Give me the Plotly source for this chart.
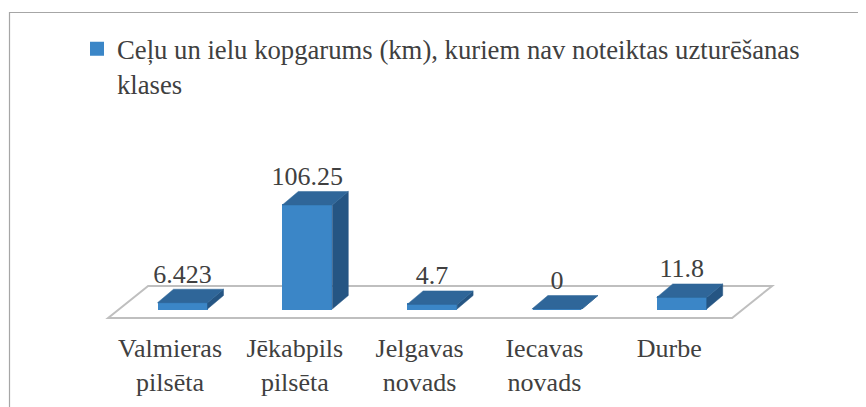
import plotly.graph_objects as go

# ---------------- data ----------------
categories = ["Valmieras<br>pilsēta", "Jēkabpils<br>pilsēta", "Jelgavas<br>novads",
              "Iecavas<br>novads", "Durbe"]
values = [6.423, 106.25, 4.7, 0, 11.8]
value_labels = ["6.423", "106.25", "4.7", "0", "11.8"]
series_name = "Ceļu un ielu kopgarums (km), kuriem nav noteiktas uzturēšanas<br>klases"

# ---------------- geometry / style ----------------
W, H = 866, 407
OFF = 8  # page body margin
PX_PER_CAT = 124.8
PX_PER_VAL = 0.979
X0_PX = 182.5 - OFF
Y0_PX = 309.0 - OFF

x_range = [-X0_PX / PX_PER_CAT, (W - X0_PX) / PX_PER_CAT]
y_range = [-(H - Y0_PX) / PX_PER_VAL, Y0_PX / PX_PER_VAL]

OUTLINE = 2
bar_w = 50 / PX_PER_CAT                # visible front-face width
bar_w_core = (50 - OUTLINE) / PX_PER_CAT
dx = 16 / PX_PER_CAT
dy = 13.5 / PX_PER_VAL

FRONT = "#3B86C7"
TOP = "#2F6699"
SIDE = "#255583"
TEXT = "#404040"
FONT = "Liberation Serif"

n = len(values)
xs = list(range(n))

top_x, top_y, side_x, side_y = [], [], [], []
for i, v in zip(xs, values):
    x0, x1 = i - bar_w / 2, i + bar_w / 2
    top_x += [x0, x1, x1 + dx, x0 + dx, x0, None]
    top_y += [v, v, v + dy, v + dy, v, None]
    side_x += [x1, x1, x1 + dx, x1 + dx, x1, None]
    side_y += [0, v, v + dy, dy, 0, None]

fig = go.Figure()

fig.add_trace(go.Bar(
    x=xs, y=values, width=bar_w_core,
    marker=dict(color=FRONT, line=dict(width=OUTLINE, color=FRONT)),
    name=series_name, showlegend=True, hoverinfo="y"))

fig.add_trace(go.Scatter(
    x=side_x, y=side_y, fill="toself", fillcolor=SIDE, mode="lines",
    line=dict(color=SIDE, width=0.5), showlegend=False, hoverinfo="skip"))
fig.add_trace(go.Scatter(
    x=top_x, y=top_y, fill="toself", fillcolor=TOP, mode="lines",
    line=dict(color=TOP, width=0.5), showlegend=False, hoverinfo="skip"))

fig.add_trace(go.Scatter(
    x=xs, y=[v + dy for v in values], mode="text", text=value_labels,
    textposition="top center",
    textfont=dict(family=FONT, size=26, color=TEXT),
    showlegend=False, hoverinfo="skip"))

fig.add_trace(go.Scatter(
    x=xs, y=[0] * n, xaxis="x2", mode="markers", marker=dict(opacity=0),
    showlegend=False, hoverinfo="skip"))

# floor of the 3D plot area
f_front = -9.2
f_back = 23.5
fl_x0 = -0.5 - 0.096
fl_x1 = n - 0.5 - 0.096
shift = 40 / PX_PER_CAT
fig.add_shape(type="path", xref="x", yref="y", layer="below",
              path=(f"M {fl_x0},{f_front} L {fl_x1},{f_front} "
                    f"L {fl_x1 + shift},{f_back} L {fl_x0 + shift},{f_back} Z"),
              line=dict(color="#BFBFBF", width=2), fillcolor="rgba(0,0,0,0)")

# outer chart frame
fig.add_shape(type="rect", xref="paper", yref="paper",
              x0=(9.5 - OFF) / W, x1=1.05, y0=-0.05, y1=1 - (12.5 - OFF) / H,
              line=dict(color="#A6A6A6", width=1.2), fillcolor="rgba(0,0,0,0)")

fig.update_layout(
    width=W, height=H,
    margin=dict(l=0, r=0, t=0, b=0),
    paper_bgcolor="white", plot_bgcolor="white",
    bargap=0,
    xaxis=dict(range=x_range, visible=False, fixedrange=True),
    xaxis2=dict(overlaying="x", anchor="free", position=1 - (330 - OFF) / H, side="bottom",
                range=[x_range[0] + 0.1, x_range[1] + 0.1],
                tickmode="array", tickvals=xs, ticktext=categories,
                showline=False, showgrid=False, zeroline=False, ticks="",
                tickfont=dict(family=FONT, size=26, color=TEXT),
                automargin=False, fixedrange=True),
    yaxis=dict(range=y_range, visible=False, fixedrange=True),
    legend=dict(x=(77 - OFF) / W, y=1 - (25 - OFF) / H, xanchor="left", yanchor="top",
                valign="top", bgcolor="rgba(0,0,0,0)",
                font=dict(family=FONT, size=26.7, color=TEXT)),
    showlegend=True,
)

fig.write_html("out.html")
